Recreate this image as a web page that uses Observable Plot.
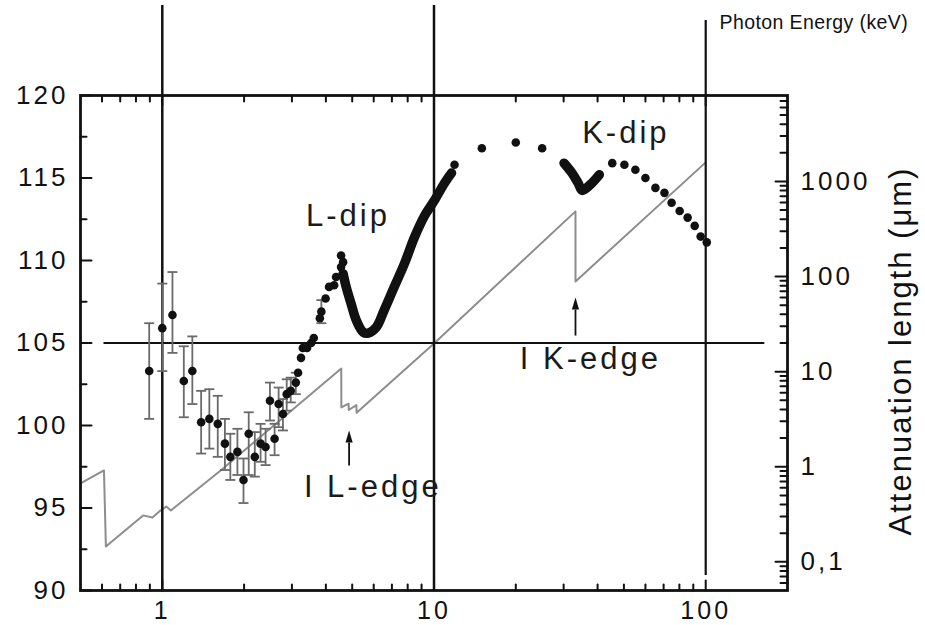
<!DOCTYPE html>
<html>
<head>
<meta charset="utf-8">
<script src="https://cdn.jsdelivr.net/npm/d3@7"></script>
<script src="https://cdn.jsdelivr.net/npm/@observablehq/plot@0.6"></script>
<style>
  html, body { margin: 0; padding: 0; background: #fff; overflow: hidden; }
  #chart svg { letter-spacing: 3px; }
  #chart svg g[aria-description="axis title"] { letter-spacing: 2px; }
  #chart svg g[aria-description="energy title"] { letter-spacing: 0.4px; }
</style>
</head>
<body>
<div id="chart"></div>
<script>
// Measured points with error bars (photon energy in keV, value with lower/upper bound)
const energyErr = [0.895, 1.00, 1.09, 1.20, 1.29, 1.39, 1.49, 1.60, 1.70, 1.78, 1.89, 1.99, 2.08, 2.19, 2.30, 2.40, 2.49, 2.59, 2.68, 2.78, 2.87, 2.97, 3.10, 3.85];
const valueErr  = [103.3, 105.9, 106.7, 102.7, 103.3, 100.2, 100.4, 100.1, 98.9, 98.1, 98.4, 96.7, 99.5, 98.1, 98.9, 98.7, 101.5, 99.2, 101.3, 100.7, 101.9, 102.1, 102.6, 106.9];
const lowErr    = [100.4, 103.3, 104.4, 100.5, 101.3, 98.3, 98.6, 98.1, 97.3, 96.7, 97.0, 95.3, 97.0, 96.9, 97.8, 97.6, 100.3, 98.2, 99.9, 99.7, 100.9, 101.4, 101.9, 106.2];
const highErr   = [106.2, 108.6, 109.3, 104.8, 105.4, 102.1, 102.2, 101.8, 100.4, 99.5, 99.8, 98.0, 100.8, 99.6, 100.1, 99.8, 102.6, 100.1, 102.3, 101.6, 102.8, 102.9, 103.2, 107.6];

// Measured points without visible error bars
const energyDot = [3.16, 3.24, 3.29, 3.41, 3.53, 3.61, 3.80, 3.99, 4.11, 4.29, 4.36, 4.55, 4.63, 4.55, 11.9, 15.0, 20.0, 25.0, 45.3, 50.2, 55.1, 60.0, 65.3, 70.5, 74.9, 80.2, 85.8, 91.1, 95.8, 100.9];
const valueDot  = [103.2, 104.1, 104.7, 104.7, 105.0, 105.3, 106.5, 107.7, 108.4, 108.5, 109.0, 109.6, 109.9, 110.3, 115.8, 116.8, 117.15, 116.8, 115.9, 115.8, 115.5, 115.0, 114.4, 114.1, 113.5, 113.0, 112.6, 112.1, 111.45, 111.1];

// Densely sampled scans through the L-dip and the K-dip
const lDipEnergy = [4.63, 4.75, 4.95, 5.17, 5.49, 5.73, 6.13, 6.56, 7.14, 7.78, 8.47, 9.22, 10.0, 10.94, 11.6];
const lDipValue  = [109.2, 108.4, 107.4, 106.4, 105.65, 105.6, 105.95, 107.0, 108.4, 109.8, 111.4, 112.7, 113.6, 114.7, 115.3];
const kDipEnergy = [30.1, 32.2, 33.9, 35.1, 37.6, 40.6];
const kDipValue  = [115.9, 115.3, 114.7, 114.25, 114.6, 115.2];

// Iodine attenuation length (µm), right-hand log axis
const attenEnergy = [0.5, 0.61, 0.62, 0.85, 0.92, 0.975, 1.035, 1.075, 1.64, 4.557, 4.56, 4.85, 4.855, 5.18, 5.19, 10, 33.17, 33.18, 100];
const attenLength = [0.667, 0.915, 0.145, 0.308, 0.293, 0.339, 0.382, 0.347, 0.915, 10.8, 4.2, 4.6, 3.95, 4.45, 3.7, 19.8, 484, 88.8, 1585];

// Axes
const xDomain = [0.5, 200];
const yDomain = [90, 120];
const attenDomain = [0.05, 8000];
const xMajorTicks = [1, 10, 100];
const yMajorTicks = [90, 95, 100, 105, 110, 115, 120];
const yMinorTicks = [92.5, 97.5, 102.5, 107.5, 112.5, 117.5];
const attenMajorTicks = [0.1, 1, 10, 100, 1000];
const attenTickLabels = ["0,1", "1", "10", "100", "1000"];
const logMinorFactors = [2, 3, 4, 5, 6, 7, 8, 9];

// Reference lines and annotations
const energyLines = [1, 10];
const energyLineHigh = [100];
const refValue = [105];
const refSpan = [0.61, 165];
const notes = [
  {text: "L-dip", x: 3.38, y: 112.67},
  {text: "K-dip", x: 35.1, y: 117.7},
  {text: "I L-edge", x: 3.32, y: 96.24},
  {text: "I K-edge", x: 20.7, y: 104.0}
];
const edgeArrows = [
  {x: 4.87, tail: 97.58, base: 98.97, head: 99.27},
  {x: 33.17, tail: 105.45, base: 107.03, head: 107.33}
];

// Map an attenuation length onto the left-hand value scale (log for the right axis)
const la0 = Math.log10(attenDomain[0]), la1 = Math.log10(attenDomain[1]);
const yFromAtten = a => yDomain[0] + (yDomain[1] - yDomain[0]) * (Math.log10(a) - la0) / (la1 - la0);
const attenLabelAt = new Map(attenMajorTicks.map((a, i) => [yFromAtten(a).toFixed(4), attenTickLabels[i]]));

const minorOf = (decades, lo, hi) => decades.flatMap(d => logMinorFactors.map(f => f * d)).filter(v => v > lo && v < hi);
const xMinorTicks = minorOf([0.1, 1, 10, 100], xDomain[0] * 1.01, xDomain[1] * 0.99);
const attenMinorTicks = minorOf([0.01, 0.1, 1, 10, 100, 1000], attenDomain[0] * 1.05, attenDomain[1] * 0.99);

const errRows = energyErr.map((e, i) => ({e, v: valueErr[i], lo: lowErr[i], hi: highErr[i]}));
const dotRows = energyDot.map((e, i) => ({e, v: valueDot[i]}));
const lDipRows = lDipEnergy.map((e, i) => ({e, v: lDipValue[i]}));
const kDipRows = kDipEnergy.map((e, i) => ({e, v: kDipValue[i]}));
const attenRows = attenEnergy.map((e, i) => ({e, a: attenLength[i]}));

// Custom shapes: straight tick, error-bar cap, narrow filled arrow head
const tickShape = {draw(ctx, l) { ctx.moveTo(0, 0); ctx.lineTo(0, -l); }};
const capSymbol = {draw(ctx) { ctx.moveTo(-5, 0); ctx.lineTo(5, 0); }};
const headSymbol = {draw(ctx) { ctx.moveTo(0, -7); ctx.lineTo(3.6, 5); ctx.lineTo(-3.6, 5); ctx.closePath(); }};

const ink = "#111";
const tick = (data, opts) => Plot.vector(data, {anchor: "start", shape: tickShape, stroke: ink, strokeWidth: 2, ...opts});

const chart = Plot.plot({
  width: 925,
  height: 625,
  marginLeft: 80,
  marginRight: 138,
  marginTop: 95,
  marginBottom: 35,
  style: {fontFamily: "'Liberation Sans', Arial, sans-serif", color: ink, background: "#fff"},
  x: {type: "log", domain: xDomain},
  y: {domain: yDomain},
  marks: [
    // attenuation length curve
    Plot.line(attenRows, {x: "e", y: d => yFromAtten(d.a), stroke: "#8d8d8d", strokeWidth: 2}),
    // reference lines
    Plot.ruleX(energyLines, {stroke: ink, strokeWidth: 2.5, insetTop: -90}),
    Plot.ruleX(energyLineHigh, {stroke: ink, strokeWidth: 2.2, insetTop: -75, insetBottom: 15}),
    Plot.ruleY(refValue, {x1: refSpan[0], x2: refSpan[1], stroke: ink, strokeWidth: 2}),
    // error bars
    Plot.ruleX(errRows, {x: "e", y1: "lo", y2: "hi", stroke: "#6a6a6a", strokeWidth: 1.8}),
    Plot.dot(errRows, {x: "e", y: "lo", symbol: capSymbol, fill: "none", stroke: "#6a6a6a", strokeWidth: 1.8}),
    Plot.dot(errRows, {x: "e", y: "hi", symbol: capSymbol, fill: "none", stroke: "#6a6a6a", strokeWidth: 1.8}),
    // measured points
    Plot.dot(errRows, {x: "e", y: "v", r: 4.3, fill: ink}),
    Plot.dot(dotRows, {x: "e", y: "v", r: 4.3, fill: ink}),
    Plot.line(lDipRows, {x: "e", y: "v", stroke: ink, strokeWidth: 9.5, strokeLinecap: "round", strokeLinejoin: "round", curve: "catmull-rom"}),
    Plot.line(kDipRows, {x: "e", y: "v", stroke: ink, strokeWidth: 9.5, strokeLinecap: "round", strokeLinejoin: "round", curve: "catmull-rom"}),
    // annotations
    Plot.text(notes, {x: "x", y: "y", text: "text", textAnchor: "start", lineAnchor: "middle", fontSize: 31, fill: "#1a1a1a"}),
    Plot.link(edgeArrows, {x1: "x", x2: "x", y1: "tail", y2: "base", stroke: ink, strokeWidth: 1.8}),
    Plot.dot(edgeArrows, {x: "x", y: "head", symbol: headSymbol, fill: ink, stroke: "none"}),
    // tick marks pointing into the frame
    tick(xMajorTicks, {x: d => d, frameAnchor: "bottom", length: 10, rotate: 0}),
    tick(xMinorTicks, {x: d => d, frameAnchor: "bottom", length: 6, rotate: 0}),
    tick(xMajorTicks, {x: d => d, frameAnchor: "top", length: 10, rotate: 180}),
    tick(xMinorTicks, {x: d => d, frameAnchor: "top", length: 6, rotate: 180}),
    tick(yMajorTicks, {y: d => d, frameAnchor: "left", length: 11, rotate: 90}),
    tick(yMinorTicks, {y: d => d, frameAnchor: "left", length: 6, rotate: 90}),
    tick(attenMajorTicks, {y: d => yFromAtten(d), frameAnchor: "right", length: 12, rotate: -90}),
    tick(attenMinorTicks, {y: d => yFromAtten(d), frameAnchor: "right", length: 7, rotate: -90}),
    Plot.frame({stroke: ink, strokeWidth: 2.8}),
    // tick labels
    Plot.axisY({ticks: yMajorTicks, anchor: "left", tickSize: 0, tickPadding: 12, fontSize: 26, label: null}),
    Plot.axisX({ticks: xMajorTicks, anchor: "bottom", tickSize: 0, tickPadding: 11, fontSize: 25, tickFormat: d => `${d}`, label: null}),
    Plot.axisY({ticks: attenMajorTicks.map(yFromAtten), anchor: "right", tickSize: 0, tickPadding: 13, fontSize: 26, label: null,
      tickFormat: d => attenLabelAt.get((+d).toFixed(4))}),
    // axis titles
    Plot.text(["Attenuation length (\u03bcm)"], {frameAnchor: "right", rotate: -90, dx: 114, dy: 8, textAnchor: "middle", lineAnchor: "middle", fontSize: 31, ariaDescription: "axis title"}),
    Plot.text(["Photon Energy (keV)"], {frameAnchor: "top-left", dx: 639, dy: -73, textAnchor: "start", lineAnchor: "middle", fontSize: 19.5, ariaDescription: "energy title"})
  ]
});

document.getElementById("chart").append(chart);
</script>
</body>
</html>
